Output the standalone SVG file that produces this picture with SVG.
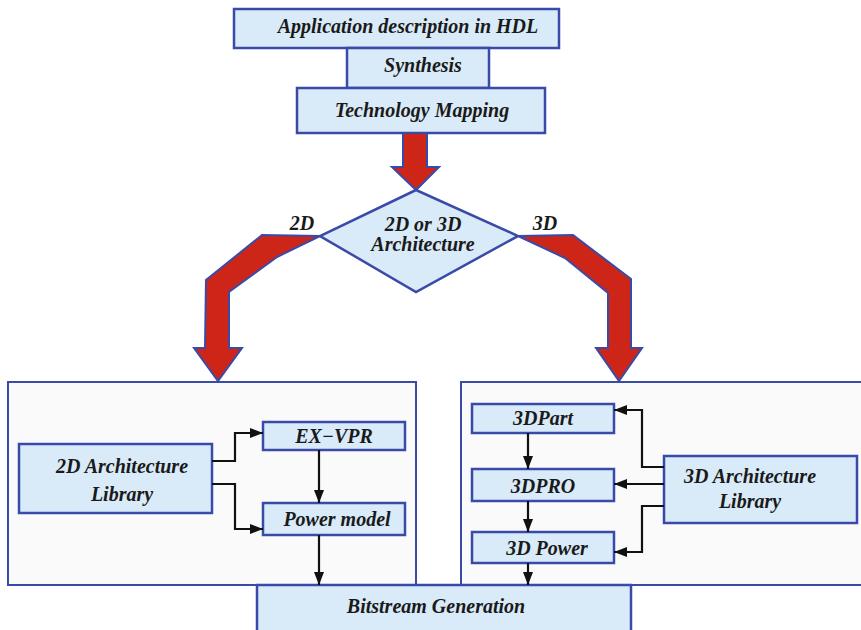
<svg xmlns="http://www.w3.org/2000/svg" width="861" height="630" viewBox="0 0 861 630">
  <defs>
    <style>
      .box { fill: #d9eaf8; stroke: #3a4aa8; stroke-width: 2.5; }
      .panel { fill: #fafafa; stroke: #3a4aa8; stroke-width: 2; }
      .big { fill: #cd2618; stroke: #3a4aa8; stroke-width: 2; stroke-linejoin: miter; }
      .lbl { font-family: "Liberation Serif", "Times New Roman", serif; font-weight: bold; font-style: italic; font-size: 20px; fill: #1a1a1a; text-anchor: middle; }
      .wire { fill: none; stroke: #111; stroke-width: 2.2; }
    </style>
    <marker id="arr" markerWidth="13" markerHeight="10" refX="13" refY="5" orient="auto" markerUnits="userSpaceOnUse">
      <path d="M0,0 L13,5 L0,10 Z" fill="#111"/>
    </marker>
  </defs>

  <rect width="861" height="630" fill="#fff"/>

  <!-- design-flow panels -->
  <g id="panel2d"><rect class="panel" x="8" y="382" width="408" height="203"/></g>
  <g id="panel3d"><rect class="panel" x="461" y="382" width="410" height="203"/></g>

  <!-- top of flow -->
  <g id="hdl">
    <rect class="box" x="234" y="9" width="325" height="39"/>
    <text class="lbl" x="408" y="33">Application description in HDL</text>
  </g>
  <g id="synthesis">
    <rect class="box" x="347" y="48" width="142" height="40"/>
    <text class="lbl" x="423" y="72">Synthesis</text>
  </g>
  <g id="techmap">
    <rect class="box" x="297" y="88" width="248" height="45"/>
    <text class="lbl" x="422" y="117">Technology Mapping</text>
  </g>

  <!-- thick red flow arrows -->
  <g id="flow-arrows">
    <polygon class="big" points="403,133 427,133 427,167 439,167 416,190 392,167 403,167"/>
    <polygon class="big" points="320,236 262,235 206,280 205,348 194,348 218,381 242,348 229,348 229,292 277,257"/>
    <polygon class="big" points="518,236 573,235 631,279 631,348 642,348 619,381 596,348 608,348 608,293 565,258"/>
  </g>

  <g id="decision">
    <polygon class="box" points="416,190 518,236 416,292 320,236"/>
    <text class="lbl" x="423" y="231">2D or 3D</text>
    <text class="lbl" x="423" y="251">Architecture</text>
  </g>
  <text class="lbl" x="302" y="230">2D</text>
  <text class="lbl" x="545" y="230">3D</text>

  <!-- 2D flow -->
  <g id="lib2d">
    <rect class="box" x="19" y="444" width="193" height="69"/>
    <text class="lbl" x="122" y="473">2D Architecture</text>
    <text class="lbl" x="122" y="501">Library</text>
  </g>
  <g id="exvpr">
    <rect class="box" x="263" y="422" width="142" height="28"/>
    <text class="lbl" x="334" y="443">EX−VPR</text>
  </g>
  <g id="power2d">
    <rect class="box" x="263" y="503" width="142" height="32"/>
    <text class="lbl" x="337" y="526">Power model</text>
  </g>

  <!-- 3D flow -->
  <g id="part3d">
    <rect class="box" x="472" y="404" width="142" height="29"/>
    <text class="lbl" x="543" y="425">3DPart</text>
  </g>
  <g id="pro3d">
    <rect class="box" x="472" y="469" width="142" height="32"/>
    <text class="lbl" x="543" y="493">3DPRO</text>
  </g>
  <g id="power3d">
    <rect class="box" x="472" y="532" width="142" height="31"/>
    <text class="lbl" x="547" y="555">3D Power</text>
  </g>
  <g id="lib3d">
    <rect class="box" x="664" y="456" width="193" height="67"/>
    <text class="lbl" x="750" y="483">3D Architecture</text>
    <text class="lbl" x="750" y="508">Library</text>
  </g>

  <g id="bitstream">
    <rect class="box" x="257" y="585" width="374" height="50"/>
    <text class="lbl" x="436" y="613">Bitstream Generation</text>
  </g>

  <!-- thin connectors -->
  <g id="connectors">
    <polyline class="wire" points="212,461 235,461 235,433 263,433" marker-end="url(#arr)"/>
    <polyline class="wire" points="212,484 235,484 235,529 263,529" marker-end="url(#arr)"/>
    <line class="wire" x1="319" y1="450" x2="319" y2="503" marker-end="url(#arr)"/>
    <line class="wire" x1="319" y1="535" x2="319" y2="585" marker-end="url(#arr)"/>
    <line class="wire" x1="528" y1="433" x2="528" y2="469" marker-end="url(#arr)"/>
    <line class="wire" x1="528" y1="501" x2="528" y2="532" marker-end="url(#arr)"/>
    <line class="wire" x1="528" y1="563" x2="528" y2="585" marker-end="url(#arr)"/>
    <polyline class="wire" points="664,467 642,467 642,410 614,410" marker-end="url(#arr)"/>
    <line class="wire" x1="664" y1="484" x2="614" y2="484" marker-end="url(#arr)"/>
    <polyline class="wire" points="664,506 642,506 642,552 614,552" marker-end="url(#arr)"/>
  </g>
</svg>
